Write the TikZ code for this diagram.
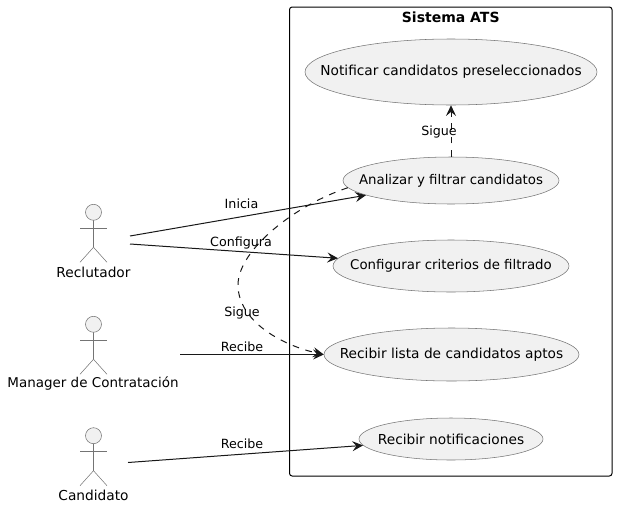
\documentclass[tikz,border=0pt]{standalone}
\usepackage{fontspec}
\setmainfont{DejaVu Sans}
\usetikzlibrary{arrows.meta,shapes.geometric}
\definecolor{umlfill}{HTML}{F1F1F1}
\definecolor{umlline}{HTML}{181818}
% zero width text, the ellipse keeps the size it is given
\newcommand{\uctext}[1]{\makebox[0pt]{#1}}
\begin{document}
\begin{tikzpicture}[x=.75pt,y=-.75pt,>={Stealth[length=8pt,width=7.5pt,inset=3pt]},
    usecase/.style={ellipse,draw=umlline!60,fill=umlfill,line width=.4pt,inner sep=0pt,font=\fontsize{10.3}{12}\selectfont},
    actorlabel/.style={inner sep=0pt,font=\fontsize{10.3}{12}\selectfont},
    edgelabel/.style={inner sep=0pt,font=\fontsize{9.5}{11}\selectfont},
    link/.style={->,umlline,line width=.75pt},
    followlink/.style={link,dash pattern=on 5pt off 5pt}
    ]
    \useasboundingbox (0,0) rectangle (617,507);

    % system boundary
    \node[draw=black,rounded corners=2pt,line width=.75pt,minimum width=322.5*.75pt,minimum height=469*.75pt,inner sep=0pt] (sistema) at (450.75,241.5) {};
    \node[inner sep=0pt,font=\bfseries\fontsize{10.5}{12}\selectfont] (titulo) at (450.75,17) {Sistema ATS};

    % actors: head centre is the only thing that moves
    \foreach \hy in {212.3,324.3,435.7}{
        \draw[umlline!60,fill=umlfill,line width=.4pt] (93.5,\hy) circle (8*.75pt);
        \draw[umlline!60,line width=.4pt] (93.5,\hy+8) -- (93.5,\hy+35) -- (80,\hy+50);
        \draw[umlline!60,line width=.4pt] (93.5,\hy+35) -- (107,\hy+50);
        \draw[umlline!60,line width=.4pt] (80,\hy+16) -- (107,\hy+16);
    }
    \node[actorlabel] (reclutador) at (93.5,272) {Reclutador};
    \node[actorlabel,font=\fontsize{10.1}{12}\selectfont] (manager) at (93,384) {Manager de Contratación};
    \node[actorlabel] (candidato) at (93.5,495) {Candidato};

    % use cases
    \node[usecase,minimum width=292*.75pt,minimum height=66*.75pt] (notificar) at (451,72) {\raisebox{-.7pt}{\uctext{Notificar candidatos preseleccionados}}};
    \node[usecase,font=\fontsize{10}{12}\selectfont,minimum width=216*.75pt,minimum height=47*.75pt] (analizar) at (451,180.5) {\uctext{Analizar y filtrar candidatos}};
    \node[usecase,font=\fontsize{10}{12}\selectfont,minimum width=236*.75pt,minimum height=52*.75pt] (configurar) at (451,266) {\uctext{Configurar criterios de filtrado}};
    \node[usecase,minimum width=255*.75pt,minimum height=53*.75pt] (lista) at (451.5,354.5) {\uctext{Recibir lista de candidatos aptos}};
    \node[usecase,minimum width=184*.75pt,minimum height=42*.75pt] (notificaciones) at (451,439) {\uctext{Recibir notificaciones}};

    % free ends at the actors
    \coordinate (reclutadorA) at (130,236);
    \coordinate (reclutadorB) at (130,244);
    \coordinate (managerA) at (180,354.5);
    \coordinate (candidatoA) at (128,462.5);

    \draw[link] (reclutadorA) -- (analizar);
    \draw[link] (reclutadorB) -- (configurar);
    \draw[link] (managerA) -- (lista);
    \draw[link] (candidatoA) -- (notificaciones);
    \draw[followlink] (analizar) -- (notificar);
    \draw[followlink] (analizar.184) .. controls (295,205) and (238,250) .. (238,285)
        .. controls (238,320) and (280,345) .. (lista.west);

    \node[edgelabel] (lblInicia) at (241.5,204) {Inicia};
    \node[edgelabel] (lblConfigura) at (241,243) {Configura};
    \node[edgelabel] (lblSigueA) at (439,132.5) {Sigue};
    \node[edgelabel] (lblSigueB) at (242,312.5) {Sigue};
    \node[edgelabel] (lblRecibeA) at (242,346.5) {Recibe};
    \node[edgelabel] (lblRecibeB) at (242,443.5) {Recibe};
\end{tikzpicture}
\end{document}
